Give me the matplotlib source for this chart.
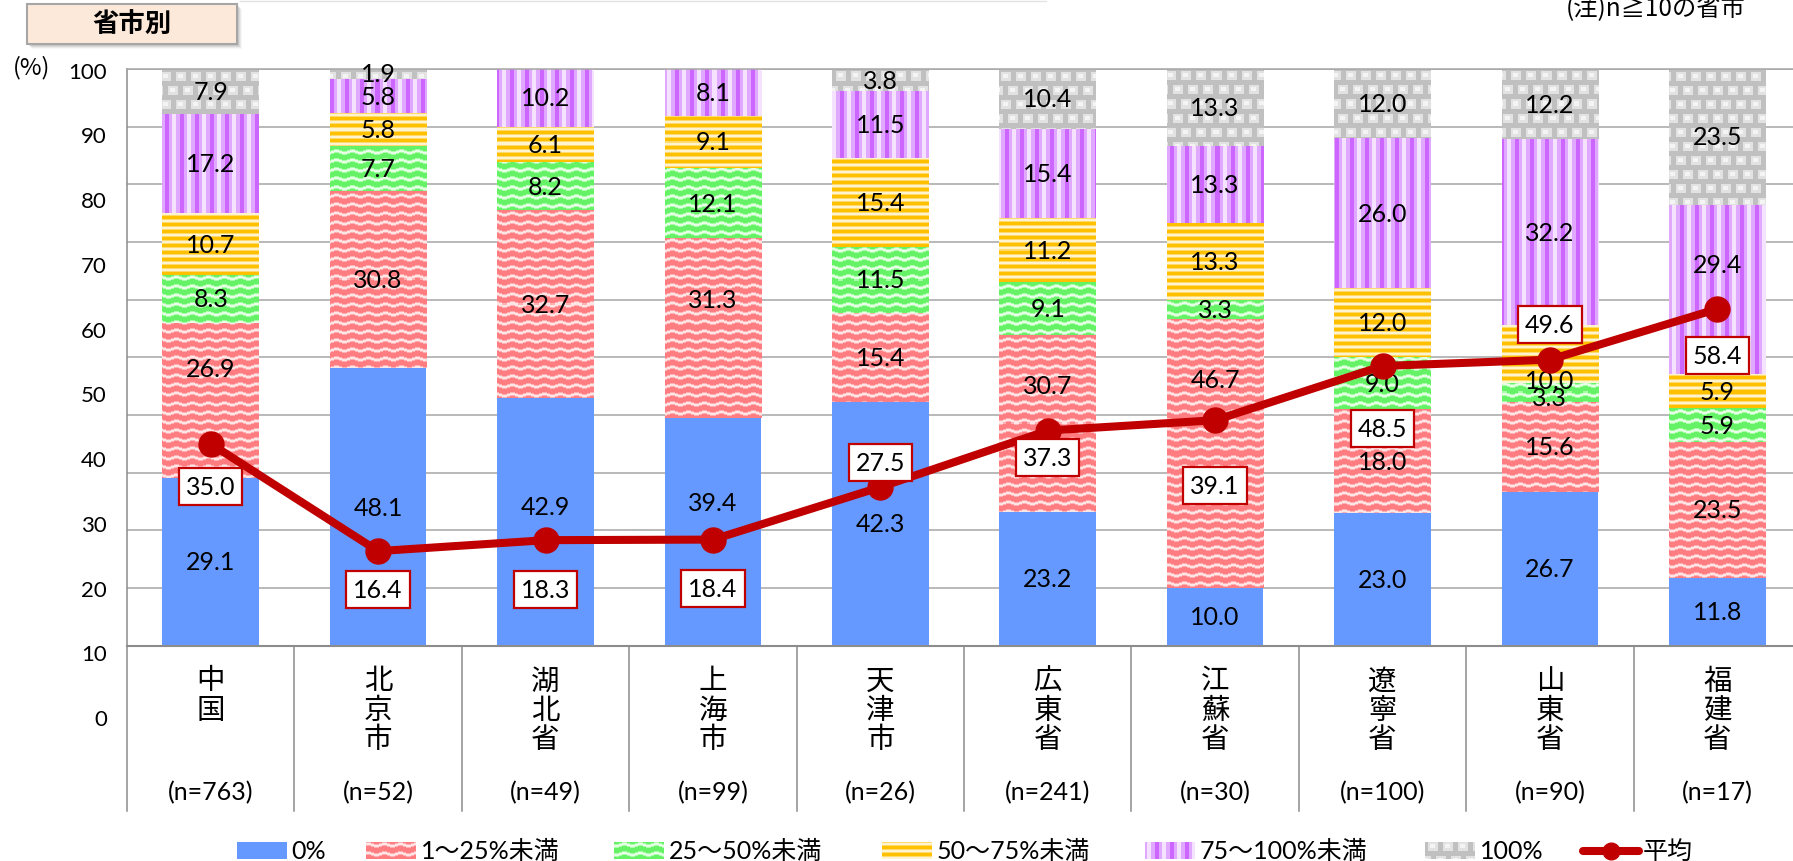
import numpy as np
import matplotlib
matplotlib.use("Agg")
import matplotlib.pyplot as plt
from matplotlib import transforms
from matplotlib.colors import to_rgb
from matplotlib.patches import Rectangle
from matplotlib.lines import Line2D

# ---------------- data ----------------
regions = ["中国", "北京市", "湖北省", "上海市", "天津市",
           "広東省", "江蘇省", "遼寧省", "山東省", "福建省"]
sample_sizes = [763, 52, 49, 99, 26, 241, 30, 100, 90, 17]
band_labels = ["0%", "1〜25%未満", "25〜50%未満", "50〜75%未満", "75〜100%未満", "100%"]
share_zero = [29.1, 48.1, 42.9, 39.4, 42.3, 23.2, 10.0, 23.0, 26.7, 11.8]
share_1_25 = [26.9, 30.8, 32.7, 31.3, 15.4, 30.7, 46.7, 18.0, 15.6, 23.5]
share_25_50 = [8.3, 7.7, 8.2, 12.1, 11.5, 9.1, 3.3, 9.0, 3.3, 5.9]
share_50_75 = [10.7, 5.8, 6.1, 9.1, 15.4, 11.2, 13.3, 12.0, 10.0, 5.9]
share_75_100 = [17.2, 5.8, 10.2, 8.1, 11.5, 15.4, 13.3, 26.0, 32.2, 29.4]
share_full = [7.9, 1.9, 0.0, 0.0, 3.8, 10.4, 13.3, 12.0, 12.2, 23.5]
average = [35.0, 16.4, 18.3, 18.4, 27.5, 37.3, 39.1, 48.5, 49.6, 58.4]
average_label = "平均"
y_tick_values = list(range(0, 101, 10))
panel_title = "省市別"
note_text = "(注)n≧10の省市"
unit_text = "(%)"

band_values = [share_zero, share_1_25, share_25_50, share_50_75, share_75_100, share_full]

# ---------------- style ----------------
W, H, DPI = 1793, 862, 100
LATIN = ["Lato", "Noto Sans CJK JP", "DejaVu Sans"]
CJK = ["Noto Sans CJK JP", "DejaVu Sans"]
plt.rcParams["font.family"] = LATIN

GRID = "#A6A6A6"
AXIS = "#8C8C8C"
AVG_RED = "#C00000"
BLUE = "#6699FF"
band_kinds = ["solid", "wave_red", "wave_green", "hstripe", "vstripe", "brick"]
band_base = [BLUE, "#FF7C80", "#66FF66", "#FFC000", "#CC66FF", "#C0C0C0"]

# pixel offsets (downwards) for the boxed average labels
avg_label_offset = [43, 38, 49, 49, -25, 27, 65, 62, -35, 47]
# hand nudges for crowded segment labels: (band, region) -> pixels down
segment_nudge = {
    (0, 2): -15, (0, 3): -30,
    (1, 0): -32, (1, 3): -29, (1, 5): -38, (1, 6): -74,
    (2, 8): 5, (3, 8): 27, (4, 9): -25,
}


def _c(c):
    return np.array(to_rgb(c))


def texture(kind, x0, y0, w, h):
    """Pattern fill anchored to absolute pixel positions."""
    yy, xx = np.mgrid[y0:y0 + h, x0:x0 + w]
    img = np.empty((h, w, 3))
    if kind in ("wave_red", "wave_green"):
        if kind == "wave_red":
            base, mid, light = _c("#FF7C80"), _c("#FFB0B2"), _c("#FFE6E6")
        else:
            base, mid, light = _c("#66F266"), _c("#A8FFA8"), _c("#E6FFE6")
        tri = np.abs((xx % 16) - 8) // 3
        r = (yy + tri) % 9
        img[:] = base
        img[(r == 0) | (r == 1)] = light
        img[(r == 2) | (r == 8)] = mid
    elif kind == "hstripe":
        O, M, L = _c("#FFC000"), _c("#FFDB6E"), _c("#FFF3D0")
        pal = np.array([O, O, O, M, L, L, M])
        img = pal[yy % 7]
    elif kind == "vstripe":
        D, M, L = _c("#CC66FF"), _c("#E0A8FF"), _c("#F4E2FF")
        pal = np.array([D, D, D, D, M, M, M, L, L, L, L, M, M, M, M])
        img = pal[xx % 15]
    elif kind == "brick":
        G, Lg, Wt = _c("#C0C0C0"), _c("#E2E2E2"), _c("#F4F4F4")
        row = yy // 14
        cx = (xx + (row % 2) * 7) % 15
        cy = yy % 14
        img[:] = G
        m = (cx >= 3) & (cx <= 12) & (cy >= 3) & (cy <= 11)
        img[m] = Lg
        inner = (cx >= 5) & (cx <= 9) & (cy >= 5) & (cy <= 8)
        img[inner] = Wt
    return img


fig = plt.figure(figsize=(W / DPI, H / DPI), dpi=DPI)
fig.patch.set_facecolor("white")

# plot area (pixel geometry of the frame)
PL, PT, PB = 127.0, 70.0, 646.7
CAT_W = 167.4
PR = PL + CAT_W * len(regions)
ax = fig.add_axes([PL / W, (H - PB) / H, (PR - PL) / W, (PB - PT) / H])
ax.set_xlim(-0.5, len(regions) - 0.5)
ax.set_ylim(0, 100)
ax.set_autoscale_on(False)
ax.set_xticks([])
ax.set_yticks(y_tick_values)
ax.tick_params(axis="y", length=0, labelleft=False)
ax.grid(axis="y", color=GRID, lw=1.1)
ax.set_axisbelow(True)
for side, sp in ax.spines.items():
    sp.set_color(AXIS if side in ("left", "bottom") else GRID)
    sp.set_linewidth(1.5 if side == "bottom" else 1.1)

# tick-label scale placed along the left edge
LT, LB = 70.7, 718.0
ax_tk = fig.add_axes([PL / W, (H - LB) / H, (PR - PL) / W, (LB - LT) / H],
                     facecolor="none")
ax_tk.set_ylim(0, 100)
ax_tk.set_yticks(y_tick_values)
ax_tk.set_yticklabels([str(v) for v in y_tick_values])
ax_tk.tick_params(axis="y", length=0, pad=14.4, labelsize=16, labelcolor="black")
ax_tk.xaxis.set_visible(False)
for sp in ax_tk.spines.values():
    sp.set_visible(False)
ax_tk.set_zorder(-1)

x = np.arange(len(regions))
BAR_W = 0.578
bottom = np.zeros(len(regions))

for bi, (vals, kind, base) in enumerate(zip(band_values, band_kinds, band_base)):
    vals = np.asarray(vals, dtype=float)
    bars = ax.bar(x, vals, BAR_W, bottom=bottom, color=base, edgecolor="none",
                  zorder=2, label=band_labels[bi])
    if kind != "solid":
        for b in bars:
            if b.get_height() <= 0:
                continue
            x0d, y0d = b.get_x(), b.get_y()
            x1d, y1d = x0d + b.get_width(), y0d + b.get_height()
            (px0, py0), (px1, py1) = ax.transData.transform([(x0d, y0d), (x1d, y1d)])
            ix0, ix1 = int(round(px0)), int(round(px1))
            it, ib = int(round(H - py1)), int(round(H - py0))
            if ix1 - ix0 <= 0 or ib - it <= 0:
                continue
            img = texture(kind, ix0, it, ix1 - ix0, ib - it)
            ax.imshow(img, extent=(x0d, x1d, y0d, y1d), origin="upper",
                      aspect="auto", interpolation="nearest", zorder=2.1)
    for ri, (v, b0) in enumerate(zip(vals, bottom)):
        if v <= 0:
            continue
        dy = segment_nudge.get((bi, ri), 0)
        ax.annotate(f"{v:.1f}", (x[ri], b0 + v / 2), xytext=(0, -dy),
                    textcoords="offset pixels", ha="center", va="center",
                    fontsize=18, color="black", zorder=3, annotation_clip=False)
    bottom += vals

ax.set_xlim(-0.5, len(regions) - 0.5)
ax.set_ylim(0, 100)

# average line
ax.plot(x, average, color=AVG_RED, lw=5.8, marker="o", ms=18, zorder=4,
        solid_capstyle="round", clip_on=False)
for xi, v, off in zip(x, average, avg_label_offset):
    ax.annotate(f"{v:.1f}", (xi, v), xytext=(0, -off), textcoords="offset pixels",
                ha="center", va="center", fontsize=18, color="black", zorder=5,
                bbox=dict(boxstyle="square,pad=0.28", fc="white", ec=AVG_RED, lw=1.6))

# overlay in figure pixels for decorations
ax_px = fig.add_axes([0, 0, 1, 1], facecolor="none")
ax_px.set_zorder(5)
ax_px.axis("off")
ax_px.set_xlim(0, W)
ax_px.set_ylim(H, 0)
ax_px.set_autoscale_on(False)

cat_tr = transforms.blended_transform_factory(ax.transData, ax_px.transData)

# category separators below the plot
for bx in np.arange(len(regions) + 1) - 0.5:
    ax_px.add_line(Line2D([bx, bx], [PB, 812], transform=cat_tr, color=AXIS,
                          lw=1.1, clip_on=False))

# vertical category names and sample sizes
for xi, name, n in zip(x, regions, sample_sizes):
    for k, ch in enumerate(name):
        ax_px.text(xi, 681.5 + 29.3 * k, ch, transform=cat_tr, ha="center",
                   va="center", fontsize=20.5, family=CJK, color="black")
    ax_px.text(xi, 793, f"(n={n})", transform=cat_tr, ha="center", va="center",
               fontsize=18, color="black")

# unit label
ax_px.text(32, 68, unit_text, ha="center", va="center", fontsize=17,
           family=CJK, color="black")

# title box with soft shadow
for k, a in enumerate([0.18, 0.14, 0.10, 0.06]):
    ax_px.add_patch(Rectangle((29 + k, 7 + k), 210, 40, fc="#7F7F7F", ec="none",
                              alpha=a, zorder=1))
ax_px.add_patch(Rectangle((27, 5), 210, 40, fc="#FDE9D9", ec="#A6A6A6", lw=1.5,
                          zorder=2))
ax_px.text(132, 25.5, panel_title, ha="center", va="center", fontsize=19,
           fontweight="bold", family=CJK, color="black", zorder=3)
ax_px.add_line(Line2D([240, 1046], [1.5, 1.5], color="#E3E3E3", lw=1.0))

# note in the top-right corner
ax_px.text(1746, 9, note_text, ha="right", va="center", fontsize=17.5,
           family=CJK, color="black")

# legend row
LEG_Y, SW_H, SW_W = 851.7, 16.7, 50
swatch_x = [236.7, 366, 614, 881.6, 1144.7, 1424.8]
for sx, kind, base, lab in zip(swatch_x, band_kinds, band_base, band_labels):
    y0, y1 = LEG_Y - SW_H / 2, LEG_Y + SW_H / 2
    if kind == "solid":
        ax_px.add_patch(Rectangle((sx, y0), SW_W, SW_H, fc=base, ec="none"))
    else:
        img = texture(kind, int(round(sx)), int(round(y0)), SW_W, int(round(SW_H)))
        ax_px.imshow(img, extent=(sx, sx + SW_W, y1, y0), origin="upper",
                     aspect="auto", interpolation="nearest")
    ax_px.text(sx + SW_W + 5, LEG_Y, lab, ha="left", va="center", fontsize=18,
               color="black")
ax_px.add_line(Line2D([1582.6, 1638.6], [LEG_Y, LEG_Y], color=AVG_RED, lw=5.8,
                      solid_capstyle="round"))
ax_px.add_line(Line2D([1610.6], [LEG_Y], color=AVG_RED, marker="o", ms=12, lw=0))
ax_px.text(1643, LEG_Y, average_label, ha="left", va="center", fontsize=18,
           family=CJK, color="black")

ax_px.set_xlim(0, W)
ax_px.set_ylim(H, 0)

fig.savefig("out.png", dpi=DPI, facecolor="white")
